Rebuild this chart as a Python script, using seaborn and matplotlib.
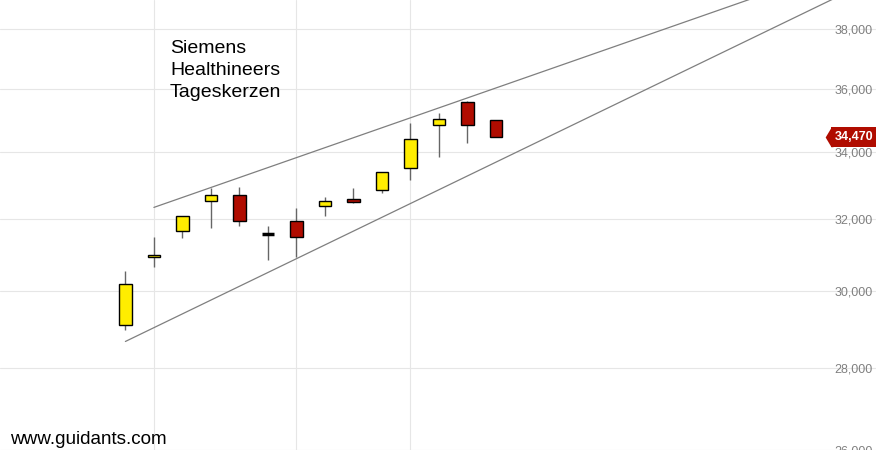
import matplotlib
matplotlib.use("Agg")
import matplotlib.pyplot as plt
import matplotlib.ticker as mticker
import seaborn as sns

# daily candles (index = trading day)
days = list(range(14))
opens = [29090, 30935, 31660, 32550, 32700, 31595, 31945, 32380, 32610, 32870, 33525, 34835, 35560, 34990]
highs = [30560, 31500, 32090, 32930, 32940, 31805, 32345, 32645, 32910, 33405, 34905, 35220, 35590, 34990]
lows = [28975, 30660, 31480, 31765, 31820, 30840, 30935, 32105, 32490, 32770, 33155, 33845, 34270, 34470]
closes = [30200, 30990, 32090, 32725, 31945, 31595, 31495, 32550, 32520, 33405, 34405, 35025, 34835, 34470]

# trend channel anchors
upper_x = [1, 22]
upper_y = [32350, 39050]
lower_x = [0, 26]
lower_y = [28670, 39600]

week_lines = [1, 6, 10]
y_ticks = [26000, 28000, 30000, 32000, 34000, 36000, 38000]
title_lines = ["Siemens", "Healthineers", "Tageskerzen"]
last_price = 34470

UP = "#ffed00"
DOWN = "#b00c00"

sns.set_style("white")
plt.rcParams["font.family"] = ["Liberation Sans", "DejaVu Sans"]

fig = plt.figure(figsize=(8.76, 4.5), dpi=100)
ax = fig.add_axes([0, 0, 1, 1])
ax.set_yscale("log")
ax.set_xlim(-4.40, 26.34)
ax.set_ylim(26092, 38995)

# grid
ax.set_xticks(week_lines)
ax.set_xticklabels([])
ax.set_yticks(y_ticks)
ax.yaxis.set_minor_locator(mticker.NullLocator())
ax.yaxis.set_major_formatter(mticker.FuncFormatter(lambda v, p: f"{v:,.0f}"))
ax.grid(True, color="#e6e6e6", linewidth=0.8, zorder=0)
for s in ax.spines.values():
    s.set_visible(False)
ax.yaxis.tick_right()
ax.tick_params(axis="y", length=0, pad=-2.5, labelsize=9, labelcolor="#808080")
ax.tick_params(axis="x", length=0)
for lab in ax.get_yticklabels():
    lab.set_horizontalalignment("right")

# trend lines
sns.lineplot(x=upper_x, y=upper_y, ax=ax, color="#7f7f7f", linewidth=0.9, zorder=1)
sns.lineplot(x=lower_x, y=lower_y, ax=ax, color="#7f7f7f", linewidth=0.9, zorder=1)

# candles
ax.vlines(days, lows, highs, color="#666666", linewidth=1.0, zorder=2)
for d, o, h, l, c in zip(days, opens, highs, lows, closes):
    if c == o:
        ax.hlines(c, d - 0.22, d + 0.22, color="black", linewidth=2.5, zorder=3)
        continue
    col = UP if c > o else DOWN
    ax.bar(d, abs(c - o), bottom=min(o, c), width=0.445, color=col,
           edgecolor="black", linewidth=1.0, zorder=3)

# last price tag
ytr = ax.get_yaxis_transform()
ax.text(0.9966, last_price, f"{last_price:,}", transform=ytr, ha="right", va="center",
        color="white", fontsize=9, fontweight="bold", zorder=5,
        bbox=dict(boxstyle="square,pad=0.3", fc=DOWN, ec="none"))
ax.plot([0.9492], [last_price], transform=ytr, marker=[(-0.6, 0), (0, 1), (0.2, 1), (0.2, -1), (0, -1)],
        markersize=14, color=DOWN, markeredgewidth=0, zorder=6, clip_on=False)

# title text
for i, t in enumerate(title_lines):
    fig.text(170 / 876, 1 - (53.3 + 21.7 * i) / 450, t, fontsize=14, color="black",
             va="baseline", ha="left")

fig.text(10 / 876, 6 / 450, "www.guidants.com", fontsize=13.6, color="black",
         va="baseline", ha="left")

fig.savefig("out.png", dpi=100)
